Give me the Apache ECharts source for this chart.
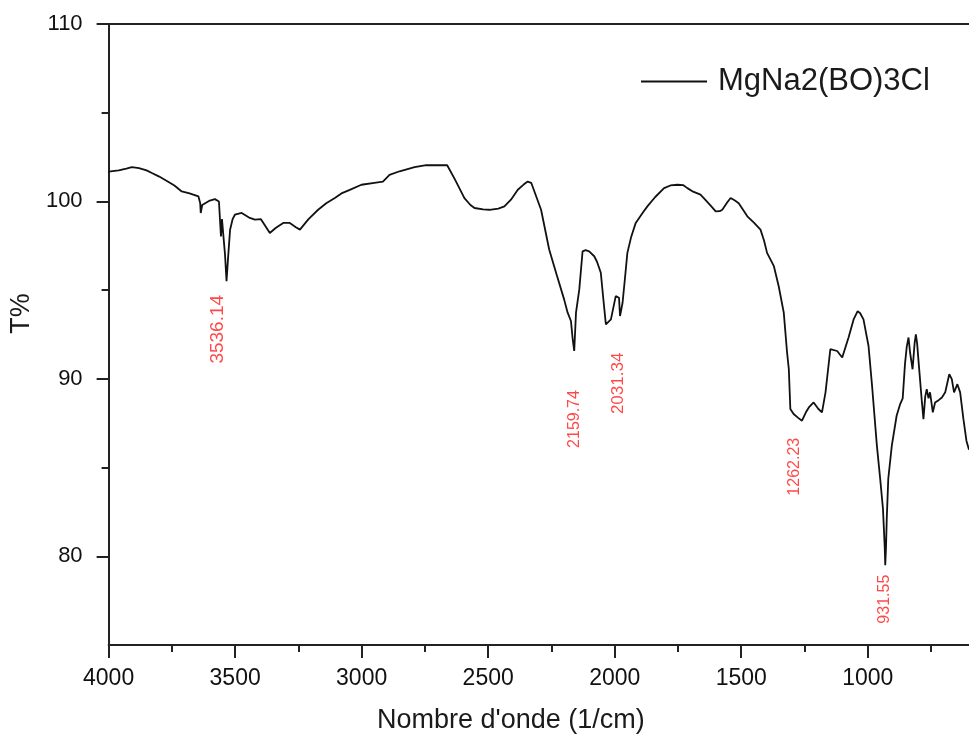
<!DOCTYPE html>
<html>
<head>
<meta charset="utf-8">
<script src="https://cdn.jsdelivr.net/npm/echarts/dist/echarts.min.js"></script>
<style>
  html, body { margin: 0; padding: 0; background: #fff; }
  #chart { width: 969px; height: 740px; }
</style>
</head>
<body>
<div id="chart"></div>
<script>
// IR spectrum
var wavenumber = [
  4000, 3960, 3930, 3908, 3880, 3850, 3829, 3800, 3763, 3740,
  3711, 3680, 3645, 3638, 3636, 3630, 3625, 3600, 3580, 3564,
  3558, 3556, 3552, 3548, 3540, 3534, 3528, 3520, 3510, 3501,
  3474, 3442, 3422, 3398, 3380, 3363, 3340, 3310, 3284, 3260,
  3244, 3210, 3172, 3140, 3106, 3080, 3047, 3001, 2950, 2916,
  2890, 2850, 2791, 2745, 2700, 2662, 2630, 2594, 2570, 2554,
  2520, 2495, 2460, 2436, 2410, 2383, 2360, 2344, 2330, 2324,
  2291, 2259, 2230, 2200, 2186, 2173, 2166, 2160, 2153, 2140,
  2127, 2115, 2101, 2081, 2070, 2055, 2045, 2035, 2015, 1996,
  1983, 1979, 1969, 1960, 1950, 1935, 1917, 1890, 1871, 1840,
  1805, 1780, 1752, 1730, 1713, 1690, 1661, 1648, 1620, 1601,
  1585, 1575, 1555, 1542, 1525, 1510, 1476, 1450, 1424, 1410,
  1398, 1371, 1352, 1332, 1319, 1312, 1306, 1293, 1275, 1260,
  1245, 1233, 1214, 1195, 1181, 1167, 1148, 1121, 1101, 1076,
  1056, 1040, 1030, 1017, 997, 983, 964, 951, 940, 933,
  931, 928, 925, 919, 905, 886, 872, 862, 857, 853,
  846, 839, 833, 823, 815, 810, 805, 800, 786, 780,
  773, 767, 760, 754, 743, 734, 720, 707, 694, 678,
  668, 659, 646, 635, 622, 610, 600
];
var transmittance = [
  101.68, 101.75, 101.85, 101.93, 101.88, 101.75, 101.6, 101.4, 101.1, 100.9,
  100.56, 100.45, 100.28, 99.9, 99.35, 99.8, 99.9, 100.05, 100.13, 100.0,
  98.5, 98.03, 99.0, 98.9, 97.0, 95.5, 96.8, 98.4, 99.0, 99.25,
  99.35, 99.07, 98.97, 99.0, 98.6, 98.22, 98.5, 98.79, 98.79, 98.55,
  98.41, 99.0, 99.53, 99.9, 100.19, 100.45, 100.65, 100.94, 101.05, 101.12,
  101.5, 101.7, 101.93, 102.04, 102.04, 102.04, 101.2, 100.19, 99.8, 99.63,
  99.55, 99.53, 99.6, 99.72, 100.1, 100.66, 100.95, 101.12, 101.05, 101.03,
  99.53, 97.29, 95.9, 94.48, 93.73, 93.26, 92.23, 91.57, 93.73, 95.04,
  97.19, 97.25, 97.19, 96.91, 96.6, 95.98, 94.5, 93.07, 93.35, 94.66,
  94.57, 93.54, 94.29, 95.6, 97.1, 98.0, 98.79, 99.35, 99.72, 100.25,
  100.75, 100.9, 100.94, 100.92, 100.75, 100.55, 100.38, 100.19, 99.75, 99.44,
  99.45, 99.53, 99.95, 100.19, 100.05, 99.9, 99.16, 98.8, 98.41, 97.8,
  97.1, 96.35, 95.22, 93.73, 91.5, 90.54, 88.3, 88.02, 87.8, 87.64,
  88.1, 88.39, 88.67, 88.3, 88.11, 89.24, 91.67, 91.57, 91.2, 92.33,
  93.35, 93.82, 93.7, 93.35, 91.85, 89.6, 86.24, 84.37, 82.68, 80.5,
  79.5, 80.5, 82.1, 84.37, 86.24, 87.92, 88.58, 88.9, 88.86, 90.83,
  91.8, 92.33, 91.5, 90.54, 92.0, 92.51, 92.0, 91.1, 88.67, 87.73,
  89.0, 89.42, 88.9, 89.24, 88.11, 88.67, 88.8, 88.95, 89.24, 90.26,
  89.98, 89.24, 89.7, 89.24, 87.73, 86.5, 86.0
];

// annotated peaks
var peakNames = ['3536.14', '2159.74', '2031.34', '1262.23', '931.55'];
var peakWave = [3534, 2160, 2035, 1260, 931];
var peakT = [95.5, 91.57, 93.07, 87.64, 79.5];

var xMajor = [4000, 3500, 3000, 2500, 2000, 1500, 1000];
var xMinor = [3750, 3250, 2750, 2250, 1750, 1250, 750];
var yMajor = [80, 90, 100, 110];
var yMinor = [85, 95, 105];

var seriesName = 'MgNa2(BO)3Cl';

var lineData = wavenumber.map(function (w, i) { return [w, transmittance[i]]; });

// where each label text sits relative to its peak (screen px) and its size
var labelShift = [[-9, 48], [0, 68], [12, 59], [-7, 46], [-1, 34]];
var labelSize = [19, 16, 17, 16, 16];

var peakData = peakNames.map(function (n, i) {
  var d = labelShift[i];
  return {
    value: [peakWave[i], peakT[i]],
    label: {
      formatter: n,
      fontSize: labelSize[i],
      offset: [-d[1], d[0]]
    }
  };
});

var axisColor = '#222';
var font = 'Liberation Sans, Arial, sans-serif';
var plain = function (v) { return String(v); };

var chart = echarts.init(document.getElementById('chart'), null, { renderer: 'canvas' });

var option = {
  animation: false,
  backgroundColor: '#fff',
  grid: { left: 107, right: 0, top: 24, bottom: 95 },
  legend: {
    data: [{ name: seriesName, icon: 'rect' }],
    left: 641,
    top: 66,
    padding: 0,
    itemWidth: 66,
    itemHeight: 2,
    itemStyle: { color: '#111' },
    textStyle: { fontSize: 31, color: '#1a1a1a', fontFamily: font, padding: [0, 0, 0, 6] }
  },
  xAxis: [{
    type: 'value',
    inverse: true,
    min: 600,
    max: 4000,
    position: 'bottom',
    name: "Nombre d'onde (1/cm)",
    nameLocation: 'middle',
    nameGap: 62,
    nameTextStyle: { fontSize: 27, color: '#1a1a1a', fontFamily: font, padding: [0, 56, 0, 0] },
    axisLine: { lineStyle: { color: axisColor, width: 2 } },
    axisTick: { show: true, inside: false, length: 13, customValues: xMajor, lineStyle: { color: axisColor, width: 2 } },
    axisLabel: { customValues: xMajor, formatter: plain, margin: 22, fontSize: 23, color: '#111', fontFamily: font },
    splitLine: { show: false }
  }, {
    type: 'value',
    inverse: true,
    min: 600,
    max: 4000,
    position: 'bottom',
    axisLine: { show: false },
    axisTick: { show: true, inside: false, length: 7, customValues: xMinor, lineStyle: { color: axisColor, width: 2 } },
    axisLabel: { show: false },
    splitLine: { show: false }
  }, {
    type: 'value',
    inverse: true,
    min: 600,
    max: 4000,
    position: 'top',
    axisLine: { lineStyle: { color: axisColor, width: 2 } },
    axisTick: { show: false },
    axisLabel: { show: false },
    splitLine: { show: false }
  }],
  yAxis: [{
    type: 'value',
    min: 75,
    max: 110,
    position: 'left',
    name: 'T%',
    nameLocation: 'middle',
    nameGap: 62,
    nameTextStyle: { fontSize: 27, color: '#1a1a1a', fontFamily: font, padding: [0, 0, 0, 42] },
    axisLine: { show: true, lineStyle: { color: axisColor, width: 2 } },
    axisTick: { show: true, inside: false, length: 12, customValues: yMajor, lineStyle: { color: axisColor, width: 2 } },
    axisLabel: { customValues: yMajor, formatter: plain, margin: 26, fontSize: 22, color: '#111', fontFamily: font },
    splitLine: { show: false }
  }, {
    type: 'value',
    min: 75,
    max: 110,
    position: 'left',
    axisLine: { show: false },
    axisTick: { show: true, inside: false, length: 7, customValues: yMinor, lineStyle: { color: axisColor, width: 2 } },
    axisLabel: { show: false },
    splitLine: { show: false }
  }],
  series: [{
    name: seriesName,
    type: 'line',
    data: lineData,
    symbol: 'none',
    lineStyle: { color: '#111', width: 1.8 },
    itemStyle: { color: '#111' }
  }, {
    name: 'peaks',
    type: 'scatter',
    data: peakData,
    symbolSize: 1,
    itemStyle: { color: 'rgba(0,0,0,0)' },
    label: {
      show: true,
      position: 'inside',
      rotate: 90,
      align: 'center',
      verticalAlign: 'middle',
      color: '#ff1a1a',
      fontFamily: font
    },
    z: 5
  }]
};

chart.setOption(option);
</script>
</body>
</html>
